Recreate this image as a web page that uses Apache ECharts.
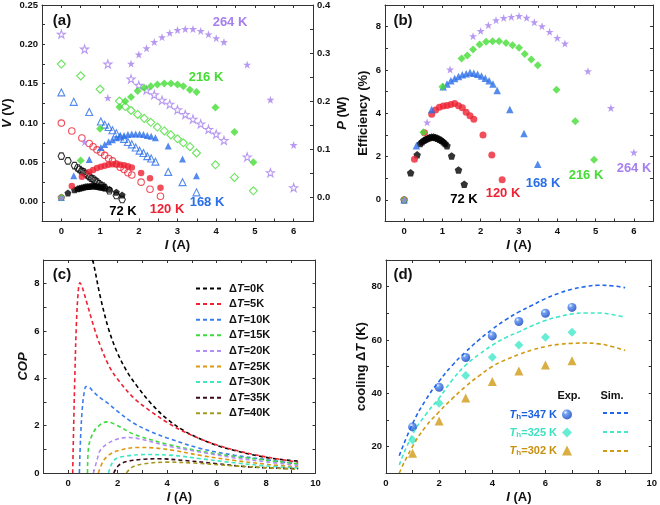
<!DOCTYPE html>
<html>
<head>
<meta charset="UTF-8">
<title>TE device performance</title>
<script src="https://cdn.jsdelivr.net/npm/echarts@6/dist/echarts.min.js"></script>
<style>
  html, body { margin: 0; padding: 0; background: #fff; }
  #chart { width: 660px; height: 505px; }
</style>
</head>
<body>
<div id="chart"></div>
<script>
// ---------- (a) / (b) measured data ----------
const i72  = [0, 0.17, 0.34, 0.42, 0.47, 0.52, 0.57, 0.62, 0.67, 0.72, 0.77, 0.82, 0.87, 0.92, 0.97, 1.02, 1.07, 1.12, 1.24, 1.42, 1.57];
const v72  = [0.058, 0.052, 0.046, 0.043, 0.041, 0.039, 0.038, 0.036, 0.034, 0.032, 0.030, 0.029, 0.027, 0.025, 0.023, 0.021, 0.020, 0.018, 0.014, 0.008, 0.003];
const p72  = [0, 0.009, 0.016, 0.018, 0.019, 0.020, 0.021, 0.022, 0.023, 0.023, 0.024, 0.024, 0.024, 0.023, 0.022, 0.021, 0.021, 0.020, 0.017, 0.011, 0.005];
const e72  = [0, 1.25, 2.08, 2.6, 2.68, 2.75, 2.8, 2.85, 2.88, 2.9, 2.9, 2.88, 2.85, 2.8, 2.75, 2.68, 2.6, 2.5, 2.03, 1.38, 0.72];

const i120 = [0, 0.27, 0.53, 0.72, 0.82, 0.92, 1.02, 1.12, 1.22, 1.32, 1.42, 1.52, 1.62, 1.72, 1.82, 2.06, 2.29, 2.56];
const v120 = [0.100, 0.090, 0.081, 0.074, 0.070, 0.066, 0.063, 0.059, 0.055, 0.052, 0.048, 0.044, 0.041, 0.037, 0.034, 0.025, 0.016, 0.007];
const p120 = [0, 0.024, 0.043, 0.053, 0.057, 0.061, 0.064, 0.066, 0.068, 0.069, 0.069, 0.068, 0.067, 0.065, 0.062, 0.051, 0.040, 0.020];
const e120 = [0, 1.88, 3.1, 3.95, 4.15, 4.28, 4.33, 4.36, 4.4, 4.45, 4.35, 4.25, 4.05, 3.88, 3.72, 3.0, 2.07, 0.93];

const i168 = [0, 0.32, 0.72, 1.02, 1.12, 1.22, 1.32, 1.42, 1.52, 1.62, 1.72, 1.82, 1.92, 2.02, 2.12, 2.22, 2.32, 2.43, 2.76, 3.13, 3.49];
const v168 = [0.139, 0.127, 0.114, 0.102, 0.098, 0.095, 0.091, 0.087, 0.083, 0.080, 0.076, 0.073, 0.069, 0.065, 0.062, 0.058, 0.055, 0.051, 0.038, 0.025, 0.012];
const p168 = [0, 0.045, 0.079, 0.104, 0.110, 0.116, 0.120, 0.124, 0.127, 0.129, 0.131, 0.132, 0.132, 0.132, 0.131, 0.129, 0.127, 0.124, 0.107, 0.080, 0.045];
const e168 = [0, 2.5, 4.17, 5.22, 5.35, 5.5, 5.6, 5.7, 5.78, 5.83, 5.88, 5.85, 5.8, 5.72, 5.62, 5.5, 5.35, 5.05, 4.17, 3.06, 1.65];

const i216 = [0, 0.5, 1.0, 1.5, 1.65, 1.8, 1.97, 2.14, 2.31, 2.48, 2.66, 2.83, 3.0, 3.15, 3.32, 3.49, 3.98, 4.47, 4.96];
const v216 = [0.175, 0.160, 0.143, 0.128, 0.121, 0.116, 0.111, 0.106, 0.101, 0.095, 0.090, 0.085, 0.080, 0.075, 0.070, 0.062, 0.047, 0.031, 0.014];
const p216 = [0, 0.077, 0.143, 0.188, 0.200, 0.209, 0.221, 0.228, 0.231, 0.235, 0.237, 0.237, 0.235, 0.231, 0.224, 0.219, 0.187, 0.136, 0.073];
const e216 = [0, 3.12, 5.22, 6.53, 6.67, 6.94, 7.18, 7.3, 7.33, 7.33, 7.25, 7.14, 7.02, 6.74, 6.48, 6.22, 5.09, 3.63, 1.85];

const i264 = [0, 0.6, 1.2, 1.8, 2.0, 2.2, 2.4, 2.6, 2.8, 3.0, 3.2, 3.4, 3.6, 3.8, 4.0, 4.2, 4.8, 5.4, 6.0];
const v264 = [0.213, 0.194, 0.175, 0.156, 0.148, 0.142, 0.136, 0.129, 0.124, 0.117, 0.111, 0.105, 0.099, 0.092, 0.086, 0.078, 0.057, 0.037, 0.018];
const p264 = [0, 0.115, 0.207, 0.278, 0.297, 0.310, 0.323, 0.333, 0.342, 0.348, 0.350, 0.350, 0.346, 0.339, 0.331, 0.323, 0.276, 0.203, 0.109];
const e264 = [0, 3.58, 6.02, 7.56, 7.8, 8.07, 8.3, 8.4, 8.45, 8.49, 8.41, 8.2, 8.02, 7.76, 7.48, 7.22, 5.94, 4.24, 2.19];

// ---------- (c) simulated COP ----------
const copNames = ['ΔT=0K', 'ΔT=5K', 'ΔT=10K', 'ΔT=15K', 'ΔT=20K', 'ΔT=25K', 'ΔT=30K', 'ΔT=35K', 'ΔT=40K'];
const copI = [
  [0.97, 1.02, 1.29, 1.63, 1.97, 2.38, 2.79, 3.33, 4.01, 4.69, 5.37, 6.05, 6.73, 7.41, 8.1, 8.7, 9.3],
  [0.18, 0.22, 0.27, 0.33, 0.4, 0.47, 0.55, 0.75, 1.02, 1.29, 1.63, 1.97, 2.65, 3.33, 4.01, 4.69, 5.37, 6.05, 6.73, 7.41, 8.1, 9.3],
  [0.45, 0.5, 0.56, 0.63, 0.72, 0.85, 1.0, 1.3, 1.6, 2.0, 2.65, 3.33, 4.0, 5.37, 6.73, 8.1, 9.3],
  [0.78, 0.82, 0.95, 1.16, 1.56, 2.0, 2.65, 4.0, 5.37, 6.73, 8.1, 9.3],
  [1.02, 1.16, 1.29, 1.56, 1.97, 2.45, 2.93, 4.0, 5.37, 6.73, 8.1, 9.3],
  [1.22, 1.43, 1.7, 2.1, 2.79, 3.47, 4.29, 5.37, 6.73, 8.1, 9.3],
  [1.63, 1.84, 2.24, 3.2, 4.29, 5.37, 6.73, 8.1, 9.3],
  [1.84, 2.04, 2.38, 3.06, 3.67, 4.69, 6.05, 7.41, 9.3],
  [2.35, 2.59, 3.06, 4.0, 5.1, 6.46, 8.1, 9.3]
];
const copV = [
  [9.0, 8.87, 7.48, 6.09, 5.12, 4.28, 3.66, 2.96, 2.27, 1.78, 1.43, 1.15, 0.95, 0.78, 0.64, 0.56, 0.5],
  [0, 2.0, 4.2, 6.3, 7.6, 8.04, 7.9, 7.2, 6.23, 5.4, 4.56, 4.0, 3.17, 2.61, 2.13, 1.74, 1.43, 1.17, 0.97, 0.8, 0.66, 0.45],
  [0, 1.5, 2.6, 3.3, 3.65, 3.62, 3.45, 3.17, 2.95, 2.6, 2.1, 1.75, 1.48, 1.03, 0.75, 0.55, 0.38],
  [0, 1.08, 1.57, 1.92, 2.16, 2.0, 1.64, 1.22, 0.92, 0.7, 0.53, 0.39],
  [0, 0.53, 0.95, 1.22, 1.43, 1.5, 1.43, 1.15, 0.88, 0.64, 0.46, 0.32],
  [0, 0.53, 0.8, 0.97, 1.08, 1.06, 0.95, 0.74, 0.53, 0.36, 0.25],
  [0, 0.53, 0.7, 0.78, 0.74, 0.6, 0.43, 0.29, 0.21],
  [0, 0.32, 0.49, 0.58, 0.6, 0.53, 0.39, 0.25, 0.18],
  [0, 0.25, 0.39, 0.46, 0.42, 0.32, 0.22, 0.15]
];
const copColors = ['#000000', '#ee2233', '#3b7ded', '#3ddc3d', '#b48cf5', '#d99a10', '#3de8c0', '#3a0a18', '#a59a20'];

// ---------- (d) cooling dT ----------
const expI = [1, 2, 3, 4, 5, 6, 7];
const exp347 = [27.3, 42.2, 53.4, 61.5, 66.9, 70.0, 72.2];
const exp325 = [22.4, 36.2, 46.6, 53.5, 58.1, 61.0, 62.9];
const exp302 = [17.4, 29.5, 38.2, 44.4, 48.3, 50.6, 52.2];
const simI = [0.5, 1, 1.5, 2, 2.5, 3, 3.5, 4, 4.5, 5, 5.5, 6, 6.5, 7, 7.5, 8, 8.5, 9];
const sim347 = [16.5, 28.5, 37.5, 44.5, 50.5, 55.5, 60, 64, 67.5, 70.5, 73, 75.5, 77.5, 79, 80, 80.5, 80.3, 79.6];
const sim325 = [13, 24.5, 32, 38.2, 45, 50.5, 54.5, 58, 60.8, 63, 65.3, 67.3, 68.7, 69.7, 70.1, 70.1, 69.5, 68.5];
const sim302 = [10, 20, 27.5, 33, 38, 42.5, 46.5, 50, 52.5, 54.5, 56.2, 57.5, 58.3, 58.7, 58.8, 58.5, 57.5, 56];

const C72 = '#000000', C120 = '#ee2233', C168 = '#2a6ee8', C216 = '#44dd33', C264 = '#a680ee';
const STAR = 'path://M50,2 L61.8,36.2 L97.6,36.2 L68.8,57.4 L79.6,91.6 L50,70.6 L20.4,91.6 L31.2,57.4 L2.4,36.2 L38.2,36.2 Z';
const PENT = 'path://M50,0 L97.6,34.5 L79.4,90.5 L20.6,90.5 L2.4,34.5 Z';
const HEX = 'path://M27,2 L73,2 L96,50 L73,98 L27,98 L4,50 Z';
const FONT = "'Liberation Sans', Arial, sans-serif";

function pts(xs, ys) { return xs.map((x, k) => [x, ys[k]]); }
function every(step, dec) {
  return function (v) {
    const r = v / step;
    return Math.abs(r - Math.round(r)) < 1e-6 ? v.toFixed(dec) : '';
  };
}
const nameStyle = {
  color: '#111', fontWeight: 'bold', fontSize: 13, fontFamily: FONT,
  rich: {
    i: { fontStyle: 'italic', fontWeight: 'bold', fontSize: 13, fontFamily: FONT, color: '#111' },
    n: { fontWeight: 'bold', fontSize: 13, fontFamily: FONT, color: '#111' }
  }
};
function axis(opt) {
  return Object.assign({
    type: 'value',
    axisLine: { show: true, onZero: false, lineStyle: { color: '#333', width: 1 } },
    axisTick: { show: true, inside: true, length: 3, lineStyle: { color: '#333' } },
    splitLine: { show: false },
    axisLabel: { color: '#111', fontWeight: 'bold', fontSize: 9.5, fontFamily: FONT, margin: 4 },
    nameTextStyle: nameStyle,
    nameLocation: 'middle'
  }, opt);
}
function mirror(src, pos) {
  return axis({
    gridIndex: src.gridIndex, position: pos, min: src.min, max: src.max, interval: src.interval,
    axisLabel: { show: false }
  });
}
function lbl(fmt, margin) {
  return { color: '#111', fontWeight: 'bold', fontSize: 9.5, fontFamily: FONT, margin: margin, formatter: fmt };
}

const chart = echarts.init(document.getElementById('chart'), null, { renderer: 'canvas' });

const xA = axis({ gridIndex: 0, min: -0.5, max: 6.5, interval: 0.5, name: '{i|I} (A)', nameGap: 17, axisLabel: lbl(every(1, 0), 5) });
const xB = axis({ gridIndex: 1, min: -0.5, max: 6.5, interval: 0.5, name: '{i|I} (A)', nameGap: 17, axisLabel: lbl(every(1, 0), 5) });
const xC = axis({ gridIndex: 2, min: -1, max: 10, interval: 1, name: '{i|I} (A)', nameGap: 18, axisLabel: lbl(every(2, 0), 5) });
const xD = axis({ gridIndex: 3, min: 0, max: 10, interval: 1, name: '{i|I} (A)', nameGap: 18, axisLabel: lbl(every(2, 0), 5) });

const yA = axis({ gridIndex: 0, min: -0.025, max: 0.25, interval: 0.025, name: '{i|V} (V)', nameGap: 28, axisLabel: lbl(every(0.05, 2), 4) });
const yA2 = axis({ gridIndex: 0, position: 'right', min: -0.05, max: 0.4, interval: 0.05, name: '{i|P} (W)', nameGap: 23, axisLabel: lbl(every(0.1, 1), 4) });
const yB = axis({ gridIndex: 1, min: -1, max: 9, interval: 1, name: 'Efficiency (%)', nameGap: 15, axisLabel: lbl(every(2, 0), 4) });
const yC = axis({ gridIndex: 2, min: 0, max: 9, interval: 1, name: '{i|COP}', nameGap: 9, axisLabel: lbl(every(2, 0), 4) });
const yD = axis({ gridIndex: 3, min: 10, max: 90, interval: 10, name: '{n|cooling Δ}{i|T}{n| (K)}', nameGap: 17,
  axisLabel: lbl(v => (v % 20 === 0 && v < 90) ? String(v) : '', 4) });

function sc(name, xi, yi, data, symbol, size, color, open) {
  return {
    name, type: 'scatter', xAxisIndex: xi, yAxisIndex: yi, data, symbol, symbolSize: size,
    itemStyle: open ? { color: 'none', borderColor: color, borderWidth: 1.1 } : { color: color },
    emphasis: { disabled: true }, silent: true
  };
}

const series = [
  // (a) open = V, filled = P
  sc('v264', 0, 0, pts(i264, v264), STAR, 8, C264, true),
  sc('v216', 0, 0, pts(i216, v216), 'diamond', 8, C216, true),
  sc('v168', 0, 0, pts(i168, v168), 'triangle', 7, C168, true),
  sc('v120', 0, 0, pts(i120, v120), 'circle', 6.5, C120, true),
  sc('v72', 0, 0, pts(i72, v72), HEX, 6.5, C72, true),
  sc('p72', 0, 1, pts(i72, p72), PENT, 7, C72, false),
  sc('p120', 0, 1, pts(i120, p120), 'circle', 6.5, C120, false),
  sc('p168', 0, 1, pts(i168, p168), 'triangle', 7, C168, false),
  sc('p216', 0, 1, pts(i216, p216), 'diamond', 8, C216, false),
  sc('p264', 0, 1, pts(i264, p264), STAR, 8, C264, false),
  // (b)
  sc('e72', 1, 2, pts(i72, e72), PENT, 7.5, C72, false),
  sc('e120', 1, 2, pts(i120, e120), 'circle', 7, C120, false),
  sc('e168', 1, 2, pts(i168, e168), 'triangle', 7.5, C168, false),
  sc('e216', 1, 2, pts(i216, e216), 'diamond', 8, C216, false),
  sc('e264', 1, 2, pts(i264, e264), STAR, 8, C264, false)
];

copNames.forEach((nm, k) => {
  series.push({
    name: nm, type: 'line', xAxisIndex: 2, yAxisIndex: 3, data: pts(copI[k], copV[k]),
    smooth: 0.35, symbol: 'none', clip: true, silent: true,
    lineStyle: { color: copColors[k], width: 1.6, type: [4, 3] },
    itemStyle: { color: copColors[k] }
  });
});

const sphere = new echarts.graphic.RadialGradient(0.35, 0.3, 0.75, [
  { offset: 0, color: '#e8f0ff' },
  { offset: 0.3, color: '#4a86f0' },
  { offset: 1, color: '#0c3cb8' }
]);
const dCols = ['#2266ee', '#40e8c8', '#d09a14'];
series.push(
  { name: 'T347', type: 'scatter', xAxisIndex: 3, yAxisIndex: 4, data: pts(expI, exp347), symbol: 'circle', symbolSize: 9,
    itemStyle: { color: sphere }, silent: true },
  { name: 'T325', type: 'scatter', xAxisIndex: 3, yAxisIndex: 4, data: pts(expI, exp325), symbol: 'diamond', symbolSize: 9,
    itemStyle: { color: dCols[1] }, silent: true },
  { name: 'T302', type: 'scatter', xAxisIndex: 3, yAxisIndex: 4, data: pts(expI, exp302), symbol: 'triangle', symbolSize: 9,
    itemStyle: { color: dCols[2] }, silent: true },
  { name: 'S347', type: 'line', xAxisIndex: 3, yAxisIndex: 4, data: pts(simI, sim347), smooth: true, symbol: 'none',
    lineStyle: { color: dCols[0], width: 1.6, type: [4, 3] }, itemStyle: { color: dCols[0] }, silent: true },
  { name: 'S325', type: 'line', xAxisIndex: 3, yAxisIndex: 4, data: pts(simI, sim325), smooth: true, symbol: 'none',
    lineStyle: { color: dCols[1], width: 1.6, type: [4, 3] }, itemStyle: { color: dCols[1] }, silent: true },
  { name: 'S302', type: 'line', xAxisIndex: 3, yAxisIndex: 4, data: pts(simI, sim302), smooth: true, symbol: 'none',
    lineStyle: { color: dCols[2], width: 1.6, type: [4, 3] }, itemStyle: { color: dCols[2] }, silent: true }
);

const legText = { fontWeight: 'bold', fontSize: 11, fontFamily: FONT, lineHeight: 12 };
const thLabels = { T347: ['b', '347'], T325: ['c', '325'], T302: ['g', '302'] };

function tx(text, x, y, color, size) {
  return { type: 'text', x, y, silent: true,
    style: { text, fill: color, font: 'bold ' + size + 'px ' + FONT, textAlign: 'center', textVerticalAlign: 'middle' } };
}

const option = {
  animation: false,
  grid: [
    { left: 42, top: 5, width: 271, height: 216.5 },
    { left: 385, top: 5, width: 268, height: 216.5 },
    { left: 43.5, top: 260, width: 272, height: 216 },
    { left: 386, top: 260, width: 266, height: 216 }
  ],
  xAxis: [xA, xB, xC, xD, mirror(xA, 'top'), mirror(xB, 'top'), mirror(xC, 'top'), mirror(xD, 'top')],
  yAxis: [yA, yA2, yB, yC, yD, mirror(yB, 'right'), mirror(yC, 'right'), mirror(yD, 'right')],
  legend: [
    { data: copNames, orient: 'vertical', left: 190, top: 278, itemWidth: 28, itemHeight: 10, itemGap: 4.6,
      selectedMode: false, itemStyle: { opacity: 0 },
      formatter: nm => '{n|Δ}{i|T}{n|' + nm.slice(2) + '}',
      textStyle: { color: '#111', rich: { n: legText, i: Object.assign({ fontStyle: 'italic' }, legText) } } },
    { data: ['T347', 'T325', 'T302'], orient: 'vertical', right: 83, top: 404, itemWidth: 10, itemHeight: 10,
      itemGap: 6.5, align: 'right', selectedMode: false,
      formatter: nm => {
        const [c, v] = thLabels[nm];
        return '{' + c + 'i|T}{' + c + 's|h}{' + c + '|=' + v + ' K}';
      },
      textStyle: { rich: {
        bi: Object.assign({ fontStyle: 'italic', color: '#1a5fe0' }, legText),
        bs: { fontSize: 8, fontWeight: 'bold', fontFamily: FONT, color: '#1a5fe0', verticalAlign: 'bottom', lineHeight: 6 },
        b: Object.assign({ color: '#1a5fe0' }, legText),
        ci: Object.assign({ fontStyle: 'italic', color: '#3de0c0' }, legText),
        cs: { fontSize: 8, fontWeight: 'bold', fontFamily: FONT, color: '#3de0c0', verticalAlign: 'bottom', lineHeight: 6 },
        c: Object.assign({ color: '#3de0c0' }, legText),
        gi: Object.assign({ fontStyle: 'italic', color: '#c89010' }, legText),
        gs: { fontSize: 8, fontWeight: 'bold', fontFamily: FONT, color: '#c89010', verticalAlign: 'bottom', lineHeight: 6 },
        g: Object.assign({ color: '#c89010' }, legText)
      } } },
    { data: ['S347', 'S325', 'S302'], orient: 'vertical', left: 597, top: 404, itemWidth: 28, itemHeight: 10,
      itemGap: 11, selectedMode: false, itemStyle: { opacity: 0 }, formatter: () => '', textStyle: legText }
  ],
  graphic: [
    tx('(a)', 62, 21, '#111', 15), tx('(b)', 403, 21, '#111', 15),
    tx('(c)', 62, 275, '#111', 15), tx('(d)', 403, 275, '#111', 15),
    tx('72 K', 123, 211, C72, 13), tx('120 K', 167, 209, C120, 13), tx('168 K', 207, 202, C168, 13),
    tx('216 K', 206, 77, C216, 13), tx('264 K', 230, 22, C264, 13),
    tx('72 K', 464, 199, C72, 13), tx('120 K', 503, 193, C120, 13), tx('168 K', 543, 183, C168, 13),
    tx('216 K', 586, 175, C216, 13), tx('264 K', 634, 168, C264, 13),
    tx('Exp.', 569, 396, '#111', 11), tx('Sim.', 612, 396, '#111', 11)
  ],
  series
};

chart.setOption(option);
</script>
</body>
</html>
